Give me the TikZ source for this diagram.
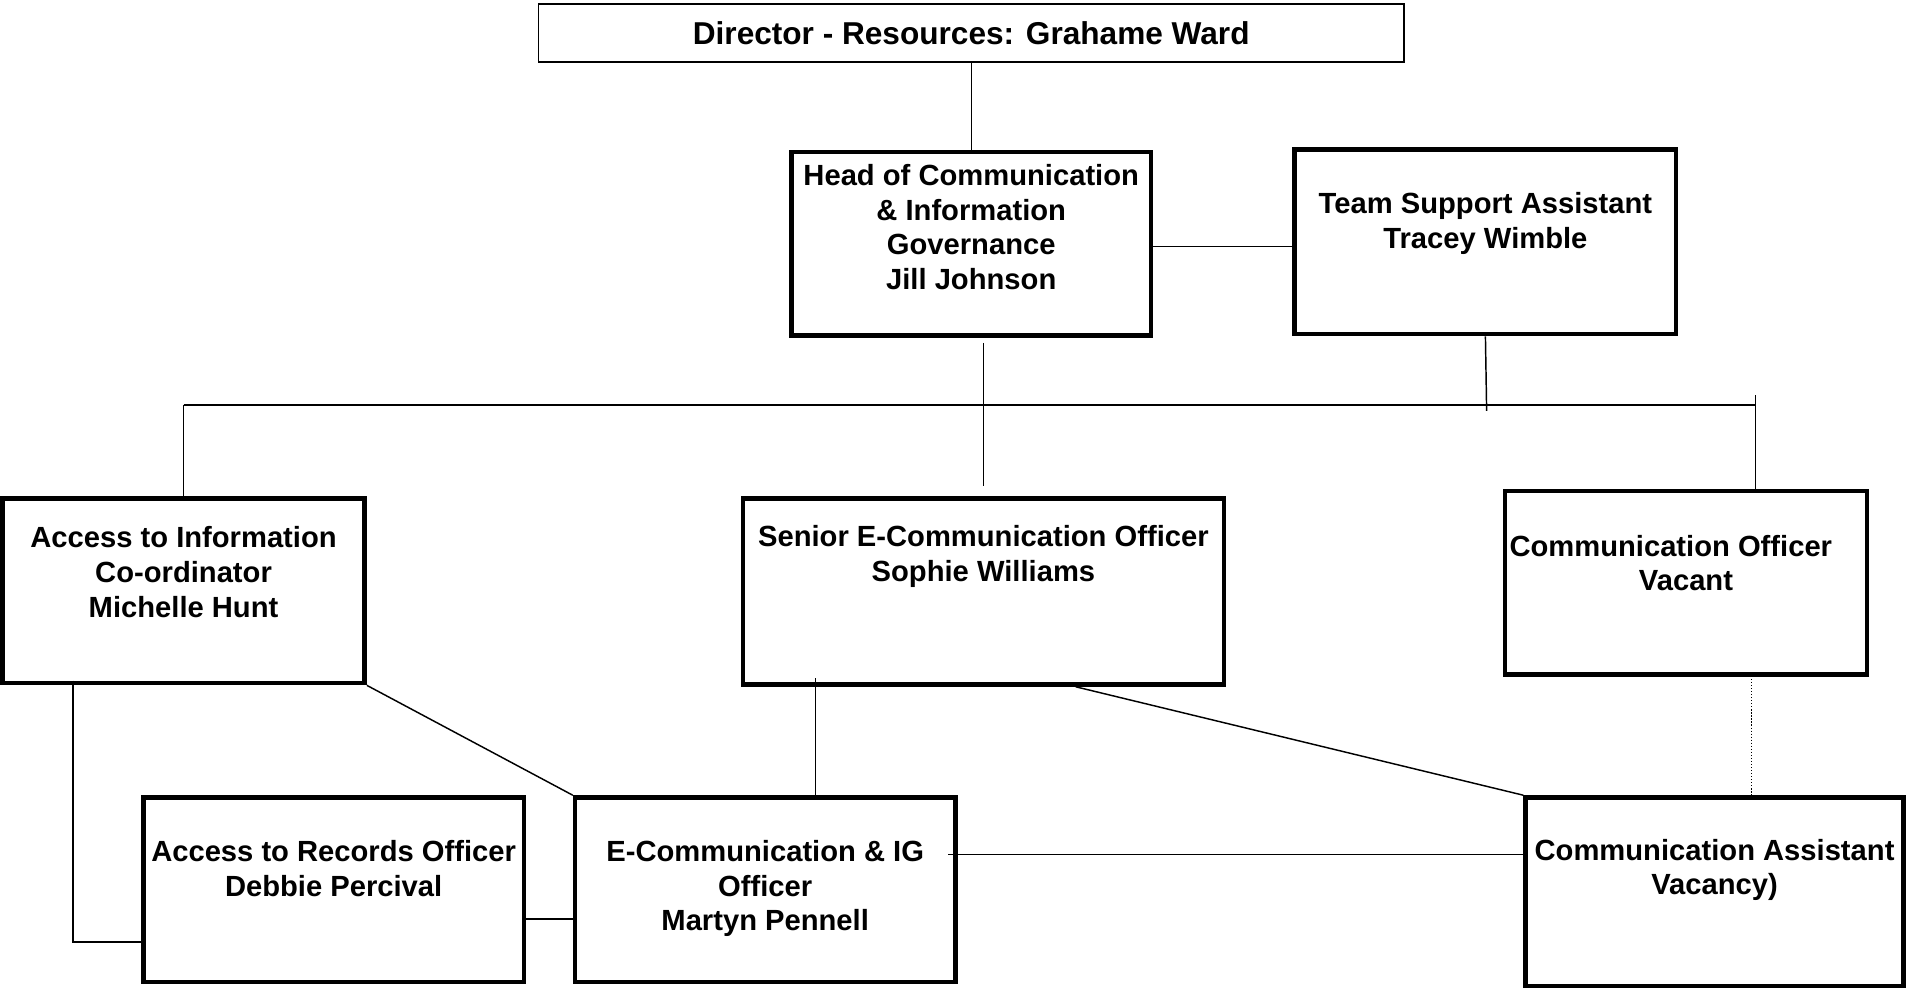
\documentclass[tikz,border=0pt]{standalone}
\usepackage{fontspec}
\setmainfont{Liberation Sans}
\begin{document}
\begin{tikzpicture}[x=1pt,y=-1pt,
  boxsty/.style={draw=black,line width=3.6pt,fill=white,inner sep=0pt},
  dirbox/.style={draw=black,line width=1.6pt,fill=white,inner sep=0pt},
  txt/.style={anchor=north,align=center,inner sep=0pt,font=\bfseries\fontsize{24}{28.5}\selectfont},
  dirtxt/.style={align=center,inner sep=0pt,font=\bfseries\fontsize{26}{30}\selectfont},
  link/.style={draw=black,line width=1.2pt},
  dotlink/.style={draw=black,line width=1pt,dash pattern=on 1pt off 1.5pt}]
\useasboundingbox (0,0) rectangle (1568,813);

% connectors first (behind boxes)
\coordinate (hdown) at (809,282);
\coordinate (hbot) at (809,400);
\coordinate (busL) at (151,333);
\coordinate (busR) at (1444,333);
\coordinate (teamEnd) at (1223,338);
\coordinate (coTop) at (1444,325);
\coordinate (infoL) at (60,560);
\coordinate (recIn) at (118,775);
\coordinate (senL) at (671,558);
\coordinate (senB) at (885,565);
\coordinate (dotTop) at (1441,556);
\coordinate (ecR) at (780,703);
\coordinate (recR) at (431,756);

% boxes
\node[dirbox,minimum width=712pt,minimum height=48pt] (dir) at (799,27) {};
\node[boxsty,minimum width=296pt,minimum height=151pt] (head) at (799,200.5) {};
\node[boxsty,minimum width=314pt,minimum height=152pt] (team) at (1222,199) {};
\node[boxsty,minimum width=298pt,minimum height=152pt] (info) at (151,486) {};
\node[boxsty,minimum width=396pt,minimum height=153pt] (senior) at (809,486.5) {};
\node[boxsty,minimum width=298pt,minimum height=151pt] (coff) at (1387,479.5) {};
\node[boxsty,minimum width=313pt,minimum height=152pt] (rec) at (274.5,732) {};
\node[boxsty,minimum width=313pt,minimum height=152pt] (ecomm) at (629.5,732) {};
\node[boxsty,minimum width=311pt,minimum height=155pt] (cass) at (1410.5,733.5) {};

% connectors
\draw[link] (dir.south) -- (head.north);
\draw[link] (head.east |- 0,203) -- (team.west |- 0,203);
\draw[link] (hdown) -- (hbot);
\draw[link] (busL) -- (busR);
\draw[link] (busL) -- (info.north);
\draw[link] (team.south) -- (teamEnd);
\draw[link] (coTop) -- (coTop |- coff.north);
\draw[link] (infoL) |- (recIn);
\draw[link] (info.south east) -- (ecomm.north west);
\draw[link] (senL) -- (senL |- ecomm.north);
\draw[link] (senB) -- (cass.north west);
\draw[dotlink] (dotTop) -- (dotTop |- cass.north);
\draw[link] (ecR) -- (ecR -| cass.west);
\draw[link] (recR) -- (recR -| ecomm.west);

% texts
\node[dirtxt] (dirT) at (dir.center) {Director - Resources: Grahame Ward};
\node[txt] (headT) at (799,132.5) {\strut Head of Communication\\ \& Information\\ Governance\\ Jill Johnson};
\node[txt] (teamT) at (1222,155.5) {\strut Team Support Assistant\\ Tracey Wimble};
\node[txt] (infoT) at (151,430.5) {\strut Access to Information\\ Co-ordinator\\ Michelle Hunt};
\node[txt] (seniorT) at (809,429.5) {\strut Senior E-Communication Officer\\ Sophie Williams};
\node[txt] (coffT) at (1387,437.5) {\strut Communication Officer\hspace*{25pt}\\ Vacant};
\node[txt] (recT) at (274.5,688.5) {\strut Access to Records Officer\\ Debbie Percival};
\node[txt] (ecommT) at (629.5,688.5) {\strut E-Communication \& IG\\ Officer\\ Martyn Pennell};
\node[txt] (cassT) at (1410.5,687.5) {\strut Communication Assistant\\ Vacancy)};
\end{tikzpicture}
\end{document}
